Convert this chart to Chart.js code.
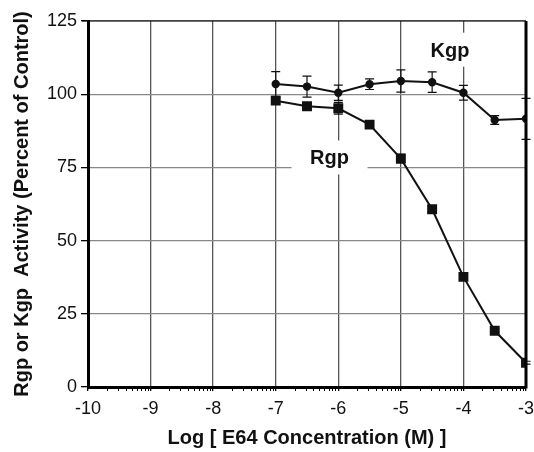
<!DOCTYPE html>
<html>
<head>
<meta charset="utf-8">
<script src="https://cdn.jsdelivr.net/npm/chart.js@4/dist/chart.umd.min.js"></script>
<style>
  html, body { margin: 0; padding: 0; background: #fff; }
</style>
</head>
<body>
<canvas id="chart" width="534" height="452"></canvas>
<script>
// log10 of E64 molar concentration
var logConc = [-7, -6.5, -6, -5.5, -5, -4.5, -4, -3.5, -3]
var kgp = [103.5, 102.6, 100.5, 103.4, 104.5, 104.1, 100.5, 91.2, 91.6]
var kgpErr = [4.2, 3.6, 2.6, 1.8, 3.8, 3.5, 2.5, 1.5, 7.0]
var rgp = [97.8, 95.9, 95.2, 89.6, 78.0, 60.7, 37.6, 19.2, 8.3]
var rgpErr = [1.0, 0.8, 2.0, 0.6, 1.5, 1.2, 0.6, 0.5, 0.5]
var xTicks = [-10, -9, -8, -7, -6, -5, -4, -3]
var yTicks = [0, 25, 50, 75, 100, 125]
var seriesNames = ['Kgp', 'Rgp']

var FONT = "'Liberation Sans', Arial, Helvetica, sans-serif"

function points(ys) {
  return logConc.map(function(x, i) { return {x: x, y: ys[i]} })
}

// error bars, drawn through the chart scales
var errorBars = {
  id: 'errorBars',
  afterDatasetsDraw: function(chart) {
    var ctx = chart.ctx
    var xs = chart.scales.x, ys = chart.scales.y
    var sets = [[kgp, kgpErr], [rgp, rgpErr]]
    ctx.save()
    ctx.strokeStyle = '#111'
    ctx.lineWidth = 1.2
    sets.forEach(function(s) {
      logConc.forEach(function(x, i) {
        var px = xs.getPixelForValue(x)
        var top = ys.getPixelForValue(s[0][i] + s[1][i])
        var bot = ys.getPixelForValue(s[0][i] - s[1][i])
        ctx.beginPath()
        ctx.moveTo(px, top); ctx.lineTo(px, bot)
        ctx.moveTo(px - 4.5, top); ctx.lineTo(px + 4.5, top)
        ctx.moveTo(px - 4.5, bot); ctx.lineTo(px + 4.5, bot)
        ctx.stroke()
      })
    })
    ctx.restore()
  }
}

// in-plot series labels on white boxes
var seriesLabels = {
  id: 'seriesLabels',
  beforeDatasetsDraw: function(chart, args, opts) {
    var ctx = chart.ctx
    var xs = chart.scales.x, ys = chart.scales.y
    ctx.save()
    opts.items.forEach(function(it) {
      var cx = xs.getPixelForValue(it.x)
      var cy = ys.getPixelForValue(it.y)
      ctx.fillStyle = '#fff'
      ctx.fillRect(cx - 38, cy - 17, 76, 34)
      ctx.fillStyle = '#111'
      ctx.font = 'bold 20px ' + FONT
      ctx.textAlign = 'center'
      ctx.textBaseline = 'alphabetic'
      ctx.fillText(it.text, cx, cy + 7)
    })
    ctx.restore()
  }
}

// frame (right + top) and log minor ticks on the x axis
var frame = {
  id: 'frame',
  afterDraw: function(chart) {
    var ctx = chart.ctx
    var a = chart.chartArea
    var xs = chart.scales.x
    ctx.save()
    ctx.strokeStyle = '#000'
    ctx.lineWidth = 1
    ctx.beginPath()
    ctx.moveTo(a.left - 6, a.top); ctx.lineTo(a.right, a.top)
    ctx.stroke()
    ctx.lineWidth = 3
    ctx.beginPath()
    ctx.moveTo(a.right, a.top); ctx.lineTo(a.right, a.bottom + 1.5)
    ctx.stroke()
    ctx.lineWidth = 1
    ctx.beginPath()
    for (var d = -10; d < -3; d++) {
      for (var k = 2; k <= 9; k++) {
        var px = Math.round(xs.getPixelForValue(d + Math.log10(k))) + 0.5
        ctx.moveTo(px, a.bottom + 1); ctx.lineTo(px, a.bottom + 4)
      }
    }
    ctx.stroke()
    ctx.restore()
  }
}

var chart = new Chart(document.getElementById('chart').getContext('2d'), {
  type: 'line',
  data: {
    datasets: [
      {
        label: seriesNames[0],
        data: points(kgp),
        borderColor: '#111',
        backgroundColor: '#111',
        borderWidth: 2,
        pointStyle: 'circle',
        pointRadius: 3.2,
        tension: 0,
      },
      {
        label: seriesNames[1],
        data: points(rgp),
        borderColor: '#111',
        backgroundColor: '#111',
        borderWidth: 2,
        pointStyle: 'rect',
        pointRadius: 5.6,
        tension: 0,
      },
    ],
  },
  options: {
    responsive: false,
    animation: false,
    layout: { padding: { top: 21, right: 8, left: 0, bottom: 0 } },
    plugins: {
      legend: { display: false },
      tooltip: { enabled: false },
      seriesLabels: {
        items: [
          { text: seriesNames[0], x: -4.215, y: 115.2 },
          { text: seriesNames[1], x: -6.14, y: 78.4 },
        ],
      },
    },
    scales: {
      x: {
        type: 'linear',
        min: -10,
        max: -3,
        afterBuildTicks: function(s) { s.ticks = xTicks.map(function(v) { return {value: v} }) },
        afterFit: function(s) { s.height = 65; s.paddingLeft = 0; s.paddingRight = 0 },
        ticks: {
          color: '#111',
          font: { family: FONT, size: 18 },
          padding: 7,
          maxRotation: 0,
        },
        grid: { color: '#555', lineWidth: 1.3, tickColor: '#000', tickLength: 4 },
        border: { color: '#000', width: 3 },
        title: {
          display: true,
          text: 'Log [ E64 Concentration (M) ]',
          color: '#111',
          font: { family: FONT, size: 20, weight: 'bold' },
          padding: { top: 0, bottom: 2 },
        },
      },
      y: {
        min: 0,
        max: 125,
        afterBuildTicks: function(s) { s.ticks = yTicks.map(function(v) { return {value: v} }) },
        afterFit: function(s) { s.width = 88; s.paddingTop = 0; s.paddingBottom = 0 },
        ticks: {
          color: '#111',
          font: { family: FONT, size: 18 },
          padding: 4,
        },
        grid: { color: '#888', lineWidth: 1.3, tickColor: '#000', tickLength: 7 },
        border: { color: '#000', width: 3 },
        title: {
          display: true,
          text: 'Rgp or Kgp  Activity (Percent of Control)',
          color: '#111',
          font: { family: FONT, size: 20, weight: 'bold' },
          padding: { top: 10, bottom: 0 },
        },
      },
    },
  },
  plugins: [seriesLabels, errorBars, frame],
})
</script>
</body>
</html>
